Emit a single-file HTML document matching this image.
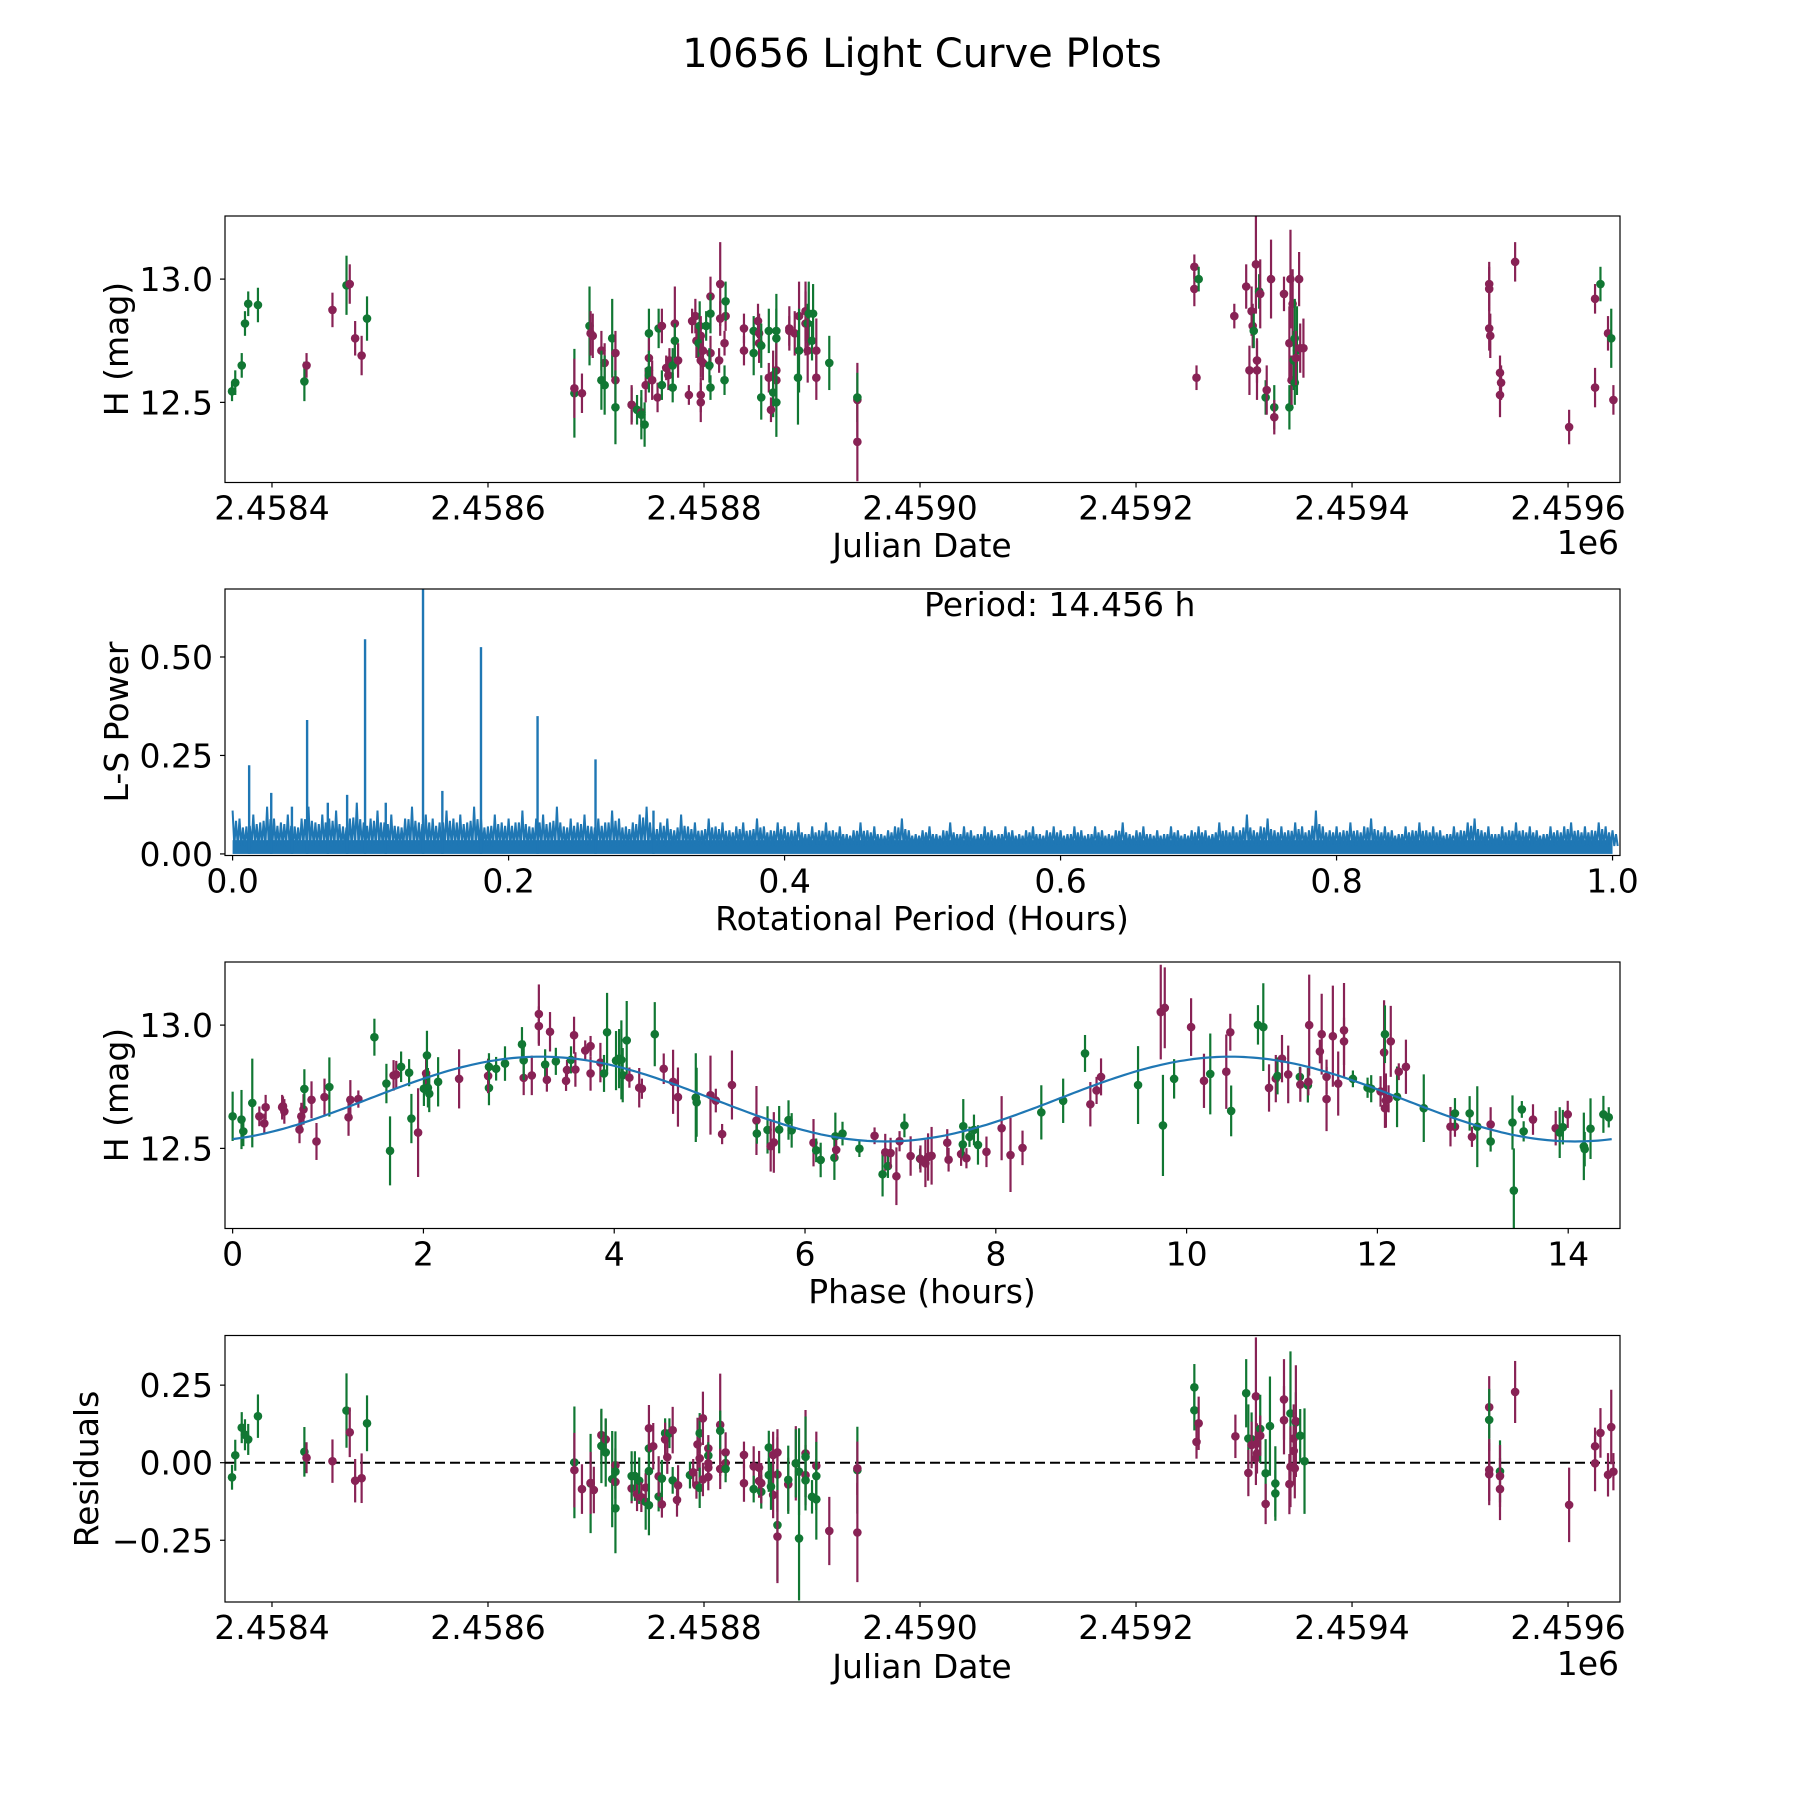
<!DOCTYPE html>
<html><head><meta charset="utf-8"><title>10656 Light Curve Plots</title>
<style>
html,body{margin:0;padding:0;background:#fff;}
svg{display:block;font-family:"DejaVu Sans","Liberation Sans",sans-serif;}
</style></head>
<body>
<svg id="fig" xmlns="http://www.w3.org/2000/svg" width="1800" height="1800" viewBox="0 0 1800 1800">
<rect x="0" y="0" width="1800" height="1800" fill="#fff"/>
<text x="922" y="67" font-size="40" text-anchor="middle">10656 Light Curve Plots</text>
</svg>
<script>
// ---------- Panel 1: light curve (H vs Julian Date) ----------
const JD_BASE = 2458400;
const lcDays = [-37,-34,-28,-25,-22,-13,30,32,56,69,72,77,83,88,
280,280,287,294,295,297,305,308,305,308,315,318,318,318,333,333,338,342,342,345,346,349,349,349,349,352,358,361,357,361,365,367,368,371,373,373,376,371,386,389,392,393,396,397,395,399,397,399,397,397,402,406,406,406,405,406,415,415,414,420,420,419,419,437,437,446,450,451,451,446,453,460,467,467,460,464,467,467,464,467,462,453,479,479,484,488,488,487,494,494,496,497,501,496,500,504,504,516,542,542,542,
854,854,858,856,891,902,905,907,908,909,911,912,914,912,915,920,921,925,928,928,937,942,942,944,943,945,946,947,947,951,949,952,955,948,
1127,1127,1127,1128,1137,1138,1137,1151,1201,1225,1230,1225,1237,1240,1242];
const lcMag = [12.545,12.58,12.65,12.82,12.90,12.895,12.585,12.65,12.875,12.975,12.98,12.76,12.69,12.84,
12.537,12.557,12.537,12.81,12.78,12.77,12.71,12.66,12.59,12.57,12.76,12.70,12.59,12.48,12.49,12.49,12.47,12.46,12.45,12.41,12.57,12.78,12.68,12.63,12.61,12.59,12.80,12.81,12.52,12.57,12.64,12.61,12.67,12.65,12.82,12.75,12.67,12.56,12.53,12.83,12.85,12.75,12.81,12.77,12.74,12.71,12.67,12.66,12.53,12.50,12.81,12.93,12.86,12.70,12.65,12.56,12.98,12.84,12.67,12.85,12.91,12.74,12.59,12.80,12.71,12.79,12.83,12.78,12.74,12.70,12.73,12.79,12.79,12.76,12.60,12.61,12.63,12.59,12.54,12.50,12.47,12.52,12.79,12.80,12.78,12.85,12.71,12.60,12.87,12.82,12.82,12.86,12.86,12.71,12.75,12.71,12.60,12.66,12.51,12.52,12.34,
12.96,13.05,13.00,12.60,12.85,12.97,12.63,12.87,12.81,12.79,13.06,12.63,12.95,12.67,12.94,12.52,12.55,13.00,12.48,12.44,12.94,12.48,12.74,12.59,13.00,12.90,12.67,12.76,12.58,13.00,12.71,12.72,12.72,12.68,
12.98,12.96,12.80,12.77,12.62,12.58,12.53,13.07,12.40,12.92,12.98,12.56,12.78,12.76,12.51];
const lcErr = [.04,.05,.05,.05,.05,.07,.08,.05,.07,.12,.08,.07,.08,.09,
.18,.12,.08,.16,.09,.09,.08,.08,.12,.12,.16,.09,.12,.15,.07,.08,.06,.06,.10,.09,.07,.10,.08,.08,.07,.08,.08,.07,.06,.06,.05,.06,.05,.07,.15,.07,.07,.06,.04,.05,.07,.07,.10,.08,.07,.07,.07,.07,.07,.08,.06,.08,.08,.07,.07,.05,.17,.07,.05,.06,.08,.05,.06,.06,.06,.06,.07,.08,.08,.09,.09,.09,.15,.12,.06,.10,.11,.10,.10,.14,.05,.09,.06,.09,.09,.14,.17,.19,.12,.13,.08,.13,.12,.13,.08,.13,.09,.11,.15,.10,.16,
.07,.05,.05,.05,.05,.09,.10,.10,.09,.07,.20,.12,.07,.09,.14,.07,.10,.16,.09,.07,.07,.09,.15,.10,.20,.14,.12,.16,.09,.11,.18,.10,.12,.11,
.09,.09,.09,.09,.07,.07,.09,.08,.07,.06,.07,.08,.07,.12,.06];
// band per point (g = green filter, m = maroon filter), in same order as lcDays
const lcBands = ("gggggggmmgmmmg" +
"gmmgmmmmgggmmggmgmggmgmggmgmmgmmmgmgmgmmmmgmgmmmmmgmgmggmmmmgmgmmgmmmgggggmmmmggmgmmmmggmmgggmgmmgmgmmm" +
"gmmmmmmgmmgmmgmmgmmgmmmmgggmgmmmmm" +
"mmmmmmmmgmmgmgg").split("");
</script>
<script>
// ---------- Panel 2: Lomb-Scargle periodogram ----------
const pgStep = 0.005;
const pgNoise = [.11,.09,.07,.10,.08,.12,.09,.08,.10,.07,.09,.12,.08,.10,.09,.11,.07,.09,.13,.08,
.09,.11,.08,.10,.07,.09,.12,.08,.10,.09,.08,.11,.09,.10,.08,.12,.09,.07,.10,.08,
.09,.08,.11,.07,.09,.10,.08,.12,.07,.09,.08,.10,.07,.09,.08,.11,.09,.07,.08,.10,
.12,.07,.08,.09,.06,.10,.07,.08,.06,.09,.07,.08,.06,.07,.08,.06,.09,.07,.06,.08,
.07,.06,.08,.05,.07,.06,.08,.06,.07,.05,.06,.08,.06,.07,.05,.06,.07,.09,.06,.05,
.06,.07,.05,.06,.08,.05,.07,.06,.05,.07,.06,.05,.07,.06,.05,.06,.07,.05,.06,.07,
.06,.05,.07,.06,.05,.07,.06,.05,.06,.08,.05,.06,.07,.05,.06,.05,.07,.06,.05,.06,
.07,.06,.05,.08,.06,.07,.06,.10,.06,.07,.09,.06,.07,.06,.08,.07,.06,.11,.07,.06,
.07,.06,.08,.06,.07,.09,.06,.07,.06,.05,.07,.06,.08,.06,.07,.06,.05,.07,.06,.08,
.09,.06,.07,.05,.07,.06,.08,.06,.07,.06,.05,.07,.06,.07,.08,.06,.07,.06,.08,.07,.06];
const pgPeakPeriod = [0.012,0.028,0.043,0.054,0.069,0.083,0.096,0.111,0.138,0.152,0.18,0.221,0.263,0.305];
const pgPeakPower = [0.225,0.155,0.12,0.34,0.13,0.15,0.545,0.13,0.672,0.16,0.525,0.35,0.24,0.11];
const pgPeriodLabel = "Period: 14.456 h";
</script>
<script>
// ---------- Panel 3: phase folded ----------
const phPhase = [0.0,.093,.112,.206,.28,.332,.346,.519,.542,.528,.701,.72,.743,.752,.827,.879,.963,1.014,1.215,1.234,1.318,1.486,1.612,1.650,1.687,1.715,1.766,1.850,1.874,1.944,2.005,2.028,2.037,2.047,2.061,2.154,2.374,2.687,2.678,2.687,2.762,2.855,3.033,3.051,3.051,3.136,3.210,3.210,3.276,3.294,3.327,3.388,3.495,3.505,3.547,3.579,3.593,3.696,3.752,3.752,3.855,3.893,3.925,4.019,4.051,4.075,4.089,4.131,4.159,4.262,4.290,4.425,4.519,4.617,4.668,4.855,4.864,5.009,5.065,5.234,5.131,5.491,5.495,5.607,5.640,5.673,5.729,5.827,5.860,6.089,6.117,6.164,6.308,6.318,6.327,6.393,6.570,6.729,6.813,6.841,6.869,6.897,6.958,6.991,7.042,7.107,7.206,
7.210,7.262,7.290,7.327,7.491,7.505,7.636,7.654,7.659,7.692,7.724,7.771,7.813,7.902,8.061,8.154,8.280,8.477,8.706,8.991,9.056,9.103,8.935,9.491,9.729,9.771,9.752,9.869,10.047,10.182,10.248,10.416,10.458,10.467,10.748,10.804,10.864,10.935,10.953,11.000,11.065,11.187,11.192,11.271,11.276,11.285,11.397,11.416,11.467,11.467,11.533,11.589,11.650,11.650,11.743,11.897,11.935,12.033,12.070,12.079,12.079,12.089,12.117,12.140,12.206,12.224,12.299,12.486,12.766,12.813,12.813,12.967,12.991,13.047,13.187,13.187,13.416,13.430,13.514,13.533,13.631,13.869,13.911,13.944,13.995,14.164,14.173,14.234,14.369,14.425];
const phMag = [12.630,12.617,12.569,12.684,12.630,12.601,12.667,12.667,12.650,12.671,12.576,12.630,12.658,12.741,12.697,12.528,12.708,12.749,12.626,12.697,12.700,12.951,12.763,12.490,12.796,12.800,12.831,12.807,12.621,12.564,12.742,12.804,12.877,12.746,12.722,12.770,12.782,12.745,12.794,12.831,12.823,12.844,12.922,12.786,12.857,12.796,13.045,12.996,12.840,12.778,12.973,12.853,12.774,12.818,12.859,12.959,12.820,12.897,12.915,12.804,12.848,12.804,12.971,12.856,12.864,12.859,12.797,12.938,12.787,12.746,12.742,12.963,12.823,12.770,12.708,12.706,12.687,12.716,12.694,12.757,12.558,12.613,12.560,12.575,12.509,12.524,12.576,12.615,12.573,12.523,12.492,12.453,12.462,12.549,12.494,12.560,12.499,12.551,12.395,12.484,12.428,12.481,12.387,12.529,12.593,12.469,12.458,
12.457,12.439,12.465,12.470,12.523,12.454,12.477,12.516,12.590,12.460,12.547,12.575,12.514,12.486,12.582,12.473,12.502,12.646,12.693,12.679,12.735,12.790,12.885,12.757,13.053,13.070,12.593,12.782,12.992,12.774,12.802,12.811,12.971,12.652,13.001,12.992,12.745,12.783,12.794,12.864,12.800,12.790,12.759,12.756,12.770,13.000,12.893,12.963,12.790,12.700,12.955,12.763,12.979,12.934,12.782,12.746,12.742,12.731,12.889,12.663,12.963,12.694,12.701,12.934,12.709,12.811,12.831,12.663,12.588,12.588,12.642,12.642,12.547,12.588,12.597,12.528,12.605,12.329,12.658,12.569,12.617,12.582,12.564,12.586,12.638,12.508,12.497,12.580,12.638,12.626];
const phErr = [.10,.12,.06,.18,.04,.04,.05,.05,.05,.04,.055,.055,.062,.08,.075,.075,.075,.12,.075,.08,.035,.075,.08,.14,.062,.055,.062,.055,.10,.18,.07,.062,.10,.08,.075,.10,.12,.07,.07,.055,.048,.07,.07,.07,.08,.08,.12,.08,.062,.048,.08,.055,.041,.041,.055,.075,.07,.041,.041,.07,.08,.075,.16,.12,.12,.16,.11,.16,.041,.08,.041,.13,.062,.13,.12,.18,.14,.16,.048,.14,.041,.14,.041,.096,.103,.123,.096,.08,.07,.096,.048,.07,.09,.096,.041,.048,.034,.034,.09,.075,.048,.062,.117,.041,.048,.08,.041,
.055,.096,.096,.117,.055,.048,.048,.055,.11,.041,.041,.062,.08,.062,.13,.15,.07,.11,.09,.09,.055,.075,.075,.158,.192,.164,.205,.08,.117,.11,.164,.151,.075,.103,.08,.178,.096,.096,.075,.096,.117,.041,.07,.07,.055,.205,.048,.164,.07,.13,.205,.13,.192,.096,.034,.041,.055,.062,.212,.08,.117,.11,.055,.144,.123,.034,.11,.137,.08,.041,.062,.07,.041,.164,.07,.041,.11,.171,.034,.041,.062,.07,.103,.07,.055,.137,.07,.123,.075,.041];
const phBands = ("gggg" + "mmmmmmmmm" + "gmmmgmmmgggmmgggmgmgggg" + "mgmggg" + "gmgmmmgmmgmmgmmmmmmgggggggmmmgmmmggmmmmmggmmgggmggggmggmgmgmm" +
"mgmgmmmmmmmggmgggmmmmggmmmggmmggmmgmmgggmmgmmgmgmmmmmmmmmmgggmmmgmmmgmmgmmggmgmgggggmmggm").split("");
const phModel = [12.70, 0.172, 7.228, 3.23]; // mean, amplitude, half-period (h), phase of max (h)
const phPeriod = 14.456;
</script>
<script>
// ---------- Panel 4: residuals vs Julian Date ----------
const resDays = [-37,-34,-28,-25,-22,-13,30,32,56,69,72,77,83,88,
280,280,287,295,295,298,305,305,309,309,315,318,318,318,318,333,333,336,338,340,342,346,346,349,349,349,349,353,358,361,358,361,364,364,368,371,366,371,376,375,387,390,393,394,396,396,396,399,399,404,404,404,404,404,415,415,415,420,420,420,437,437,446,446,451,451,453,453,460,460,464,464,468,468,468,468,462,478,478,485,488,488,485,494,494,494,494,500,504,504,504,516,542,542,542,
854,854,858,856,892,902,904,904,907,907,911,911,912,912,915,915,920,920,924,929,929,937,937,943,943,942,946,946,948,948,952,956,947,
1127,1127,1127,1127,1137,1137,1137,1151,1201,1225,1225,1230,1237,1240,1242];
const resVal = [-0.047,0.024,0.113,0.090,0.075,0.150,0.035,0.016,0.005,0.168,0.098,-0.058,-0.050,0.127,
0.001,-0.024,-0.085,-0.067,-0.065,-0.088,0.089,0.054,0.075,0.033,-0.053,-0.008,-0.062,-0.029,-0.147,-0.083,-0.043,-0.043,-0.102,-0.058,-0.111,-0.126,-0.080,-0.137,-0.027,0.046,0.111,0.053,-0.109,-0.134,-0.044,-0.051,0.095,0.075,0.095,0.105,0.018,-0.057,-0.073,-0.120,-0.040,-0.031,-0.073,0.059,0.095,0.014,-0.081,-0.054,0.143,0.046,0.023,-0.016,-0.002,-0.046,0.122,0.103,-0.020,-0.001,0.033,-0.020,0.025,-0.066,-0.012,-0.085,-0.059,-0.016,-0.094,-0.066,0.049,-0.040,0.025,-0.104,0.033,-0.038,-0.201,-0.238,-0.077,-0.070,-0.055,-0.002,-0.029,-0.244,-0.002,0.030,-0.040,0.019,-0.057,-0.110,-0.010,-0.118,-0.043,-0.220,-0.024,-0.018,-0.225,
0.243,0.169,0.127,0.067,0.085,0.224,0.078,-0.033,0.076,0.057,0.214,0.014,0.062,0.030,0.109,0.087,-0.034,-0.133,0.118,-0.067,-0.099,0.204,0.137,0.159,-0.013,-0.069,0.078,0.038,0.130,0.134,0.087,0.005,-0.018,
0.179,0.138,-0.023,-0.037,-0.028,-0.043,-0.085,0.228,-0.136,0.053,-0.002,0.096,-0.039,0.115,-0.029];
const resErr = [.04,.05,.05,.05,.05,.07,.08,.05,.07,.12,.08,.07,.08,.09,
.18,.12,.08,.16,.10,.075,.08,.12,.065,.11,.155,.054,.054,.13,.145,.048,.08,.08,.054,.075,.048,.09,.048,.097,.075,.065,.075,.075,.048,.043,.065,.06,.048,.054,.048,.075,.054,.043,.065,.054,.043,.043,.043,.086,.065,.065,.065,.054,.086,.043,.043,.043,.043,.043,.165,.065,.065,.043,.065,.043,.043,.06,.065,.043,.054,.054,.054,.065,.054,.054,.075,.075,.075,.12,.18,.15,.075,.086,.11,.12,.14,.2,.11,.14,.097,.13,.097,.054,.11,.13,.11,.11,.14,.086,.16,
.075,.065,.086,.054,.07,.11,.11,.075,.086,.075,.19,.086,.065,.065,.11,.065,.11,.065,.16,.12,.075,.13,.11,.2,.13,.097,.11,.11,.097,.18,.086,.17,.097,
.1,.1,.1,.1,.1,.1,.1,.1,.12,.06,.09,.08,.07,.12,.06];
const resBands = ("gggggggmmgmmmg" +
"gmmgmmmgmggmmggmggmgmgmgggmmgmmggmgmmgmmgmmmgmgmmmgmmmmgmmmgmmmgmmgmggmmmmgmgmgmgggmmgggmggmgmmggmmmggm" +
"gmmmmmgmgmgggmmgmmmmgmggmmgmmgmmm" +
"mmmmmmmmgmgmmgg").split("");
</script>
<script>
const NS = "http://www.w3.org/2000/svg";
const svg = document.getElementById("fig");
const COL = {g: "#117733", m: "#882255"};
const FS = 33;
function el(tag, attrs, parent) {
  const e = document.createElementNS(NS, tag);
  for (const k in attrs) e.setAttribute(k, attrs[k]);
  (parent || svg).appendChild(e);
  return e;
}
function axes(name, L, T, W, H, xmin, xmax, ymin, ymax) {
  const g = el("g", {});
  
  
  const clipId = "clip-" + name;
  const cp = el("clipPath", {id: clipId}, g);
  el("rect", {x: L, y: T, width: W, height: H}, cp);
  const plot = el("g", {"clip-path": "url(#" + clipId + ")"}, g);
  
  
  return {g, plot, L, T, W, H,
    x: v => L + (v - xmin) / (xmax - xmin) * W,
    y: v => T + H - (v - ymin) / (ymax - ymin) * H};
}
function frame(ax) {
  const r = el("rect", {x: ax.L, y: ax.T, width: ax.W, height: ax.H, fill: "none", stroke: "#000", "stroke-width": 1.2}, ax.g);
  
  
}
function xTicks(ax, vals, labels, labelName) {
  vals.forEach((v, i) => {
    const px = ax.x(v);
    const t = el("line", {x1: px, x2: px, y1: ax.T + ax.H, y2: ax.T + ax.H + 5, stroke: "#000", "stroke-width": 1.2}, ax.g);
    
    
    const tx = el("text", {x: px, y: ax.T + ax.H + 37, "font-size": FS, "text-anchor": "middle"}, ax.g);
    
    
    tx.textContent = labels[i];
  });
}
function yTicks(ax, vals, labels) {
  vals.forEach((v, i) => {
    const py = ax.y(v);
    const t = el("line", {x1: ax.L - 5, x2: ax.L, y1: py, y2: py, stroke: "#000", "stroke-width": 1.2}, ax.g);
    
    
    const tx = el("text", {x: ax.L - 12, y: py + 12, "font-size": FS, "text-anchor": "end"}, ax.g);
    
    
    tx.textContent = labels[i];
  });
}
function label(ax, text, x, y, rot, name, anchor) {
  const t = el("text", {x: x, y: y, "font-size": FS, "text-anchor": anchor || "middle"}, ax.g);
  if (rot) t.setAttribute("transform", "rotate(-90 " + x + " " + y + ")");
  
  
  t.textContent = text;
  return t;
}
function errPoints(ax, xs, ys, es, bands, nm) {
  xs.forEach((xv, i) => {
    const c = COL[bands[i]] || COL.g;
    const px = ax.x(xv), py = ax.y(ys[i]);
    const b = el("line", {x1: px, x2: px, y1: ax.y(ys[i] - es[i]), y2: ax.y(ys[i] + es[i]), stroke: c, "stroke-width": 2.2}, ax.plot);
    
    
    const d = el("circle", {cx: px, cy: py, r: 4.3, fill: c}, ax.plot);
    
    
  });
}
const xL = 225, W = 1395, AH = 266.5;
const jdMin = 2458356.5, jdMax = 2459648.1;
const jdTicks = [2458400, 2458600, 2458800, 2459000, 2459200, 2459400, 2459600];
const jdTickLabels = ["2.4584", "2.4586", "2.4588", "2.4590", "2.4592", "2.4594", "2.4596"];
const hTicks = [12.5, 13.0];
const hTickLabels = ["12.5", "13.0"];

// Panel 1
const a1 = axes("light-curve-panel", xL, 216, W, AH, jdMin, jdMax, 12.175, 13.256);
errPoints(a1, lcDays.map(d => JD_BASE + d), lcMag, lcErr, lcBands, "light-curve");
frame(a1);
xTicks(a1, jdTicks, jdTickLabels, "x-tick-label");
yTicks(a1, hTicks, hTickLabels);
label(a1, "1e6", 1619, 554, false, "x-offset-label", "end");
label(a1, "Julian Date", 922, 557, false, "x-axis-title");
label(a1, "H (mag)", 128, 349, true, "y-axis-title");

// Panel 2
const a2 = axes("periodogram-panel", xL, 589, W, AH, -0.0055, 1.0054, -0.004, 0.6726);
let dPath = "";
pgNoise.forEach((v, i) => {
  const p = i * pgStep;
  const nxt = i + 1 < pgNoise.length ? pgNoise[i + 1] : v;
  dPath += (i ? "L" : "M") + a2.x(p).toFixed(1) + "," + a2.y(v).toFixed(1);
  dPath += "L" + a2.x(p + pgStep * 0.25).toFixed(1) + "," + a2.y(0.02).toFixed(1);
  dPath += "L" + a2.x(p + pgStep * 0.5).toFixed(1) + "," + a2.y((v + nxt) * 0.42).toFixed(1);
  dPath += "L" + a2.x(p + pgStep * 0.75).toFixed(1) + "," + a2.y(0.02).toFixed(1);
});
const band = el("rect", {x: a2.x(0), y: a2.y(0.035), width: a2.x(1) - a2.x(0), height: a2.y(0) - a2.y(0.035), fill: "#1f77b4"}, a2.plot);


const nl = el("path", {d: dPath, fill: "none", stroke: "#1f77b4", "stroke-width": 2}, a2.plot);


pgPeakPeriod.forEach((p, i) => {
  const ln = el("line", {x1: a2.x(p), x2: a2.x(p), y1: a2.y(0), y2: a2.y(pgPeakPower[i]), stroke: "#1f77b4", "stroke-width": 2.4}, a2.plot);
  
  
});
frame(a2);
xTicks(a2, [0, 0.2, 0.4, 0.6, 0.8, 1.0], ["0.0", "0.2", "0.4", "0.6", "0.8", "1.0"], "x-tick-label");
yTicks(a2, [0, 0.25, 0.5], ["0.00", "0.25", "0.50"]);
label(a2, pgPeriodLabel, 924, 616, false, "period-annotation", "start");
label(a2, "Rotational Period (Hours)", 922, 930, false, "x-axis-title");
label(a2, "L-S Power", 128, 722, true, "y-axis-title");

// Panel 3
const a3 = axes("phase-fold-panel", xL, 962, W, AH, -0.08, 14.543, 12.175, 13.256);
errPoints(a3, phPhase, phMag, phErr, phBands, "phase");
let mPath = "";
for (let k = 0; k <= 300; k++) {
  const p = k / 300 * phPeriod;
  const v = phModel[0] + phModel[1] * Math.cos(2 * Math.PI * (p - phModel[3]) / phModel[2]);
  mPath += (k ? "L" : "M") + a3.x(p).toFixed(1) + "," + a3.y(v).toFixed(1);
}
const ml = el("path", {d: mPath, fill: "none", stroke: "#1f77b4", "stroke-width": 2.2}, a3.plot);


frame(a3);
xTicks(a3, [0, 2, 4, 6, 8, 10, 12, 14], ["0", "2", "4", "6", "8", "10", "12", "14"], "x-tick-label");
yTicks(a3, hTicks, hTickLabels);
label(a3, "Phase (hours)", 922, 1303, false, "x-axis-title");
label(a3, "H (mag)", 128, 1095, true, "y-axis-title");

// Panel 4
const a4 = axes("residuals-panel", xL, 1335.5, W, AH, jdMin, jdMax, -0.449, 0.410);
const zl = el("line", {x1: xL, x2: xL + W, y1: a4.y(0), y2: a4.y(0), stroke: "#000", "stroke-width": 2, "stroke-dasharray": "10,5"}, a4.plot);


errPoints(a4, resDays.map(d => JD_BASE + d), resVal, resErr, resBands, "residual");
frame(a4);
xTicks(a4, jdTicks, jdTickLabels, "x-tick-label");
yTicks(a4, [-0.25, 0, 0.25], ["\u22120.25", "0.00", "0.25"]);
label(a4, "1e6", 1619, 1675, false, "x-offset-label", "end");
label(a4, "Julian Date", 922, 1678, false, "x-axis-title");
label(a4, "Residuals", 98, 1469, true, "y-axis-title");
</script>
</body></html>
